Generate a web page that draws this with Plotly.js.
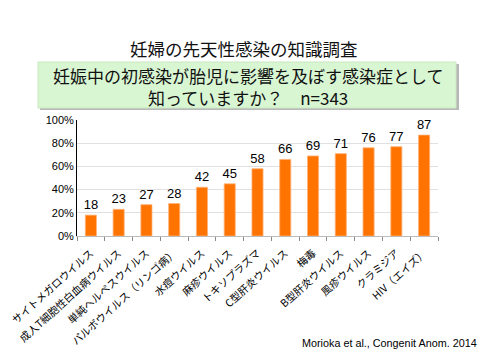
<!DOCTYPE html>
<html><head><meta charset="utf-8">
<script src="https://cdn.plot.ly/plotly-3.0.1.min.js"></script>
<style>html,body{margin:0;padding:0;background:#fff}</style>
</head><body><div id="c" style="width:482px;height:359px"></div>
<script>
const categories = ["サイトメガロウイルス","成人T細胞性白血病ウイルス","単純ヘルペスウイルス","パルボウイルス（リンゴ病）","水痘ウイルス","麻疹ウイルス","トキソプラズマ","C型肝炎ウイルス","梅毒","B型肝炎ウイルス","風疹ウイルス","クラミジア","HIV（エイズ）"];
const values = [18,23,27,28,42,45,58,66,69,71,76,77,87];
const yTickVals = [0,20,40,60,80,100];
const yTickText = ["0%","20%","40%","60%","80%","100%"];

const L=77,R=438,T=120,B=236,W=482,H=359;
const px=x=>(x-L)/(R-L), py=y=>(B-y)/(B-T);
const jp = '"Noto Sans CJK JP", sans-serif';

const trace = {
  type:'bar', x:categories, y:values,
  marker:{color:'#ff7400', line:{color:'#ffb27a', width:0.8}},
  text:values.map(String), textposition:'outside', constraintext:'none',
  textfont:{family:'"Liberation Sans", Arial, sans-serif', size:13, color:'#000'},
  cliponaxis:false, hoverinfo:'none'
};
const layout = {
  width:W, height:H, margin:{l:L, r:W-R, t:T, b:H-B},
  paper_bgcolor:'#fff', plot_bgcolor:'#fff',
  bargap:0.6, showlegend:false,
  xaxis:{type:'category', tickangle:-42, tickfont:{family:jp, size:10.5, color:'#000'},
    ticks:'outside', tickson:'boundaries', ticklen:4, tickcolor:'#888', ticklabelstandoff:6,
    showline:true, linecolor:'#bbb', linewidth:1, showgrid:false, automargin:false},
  yaxis:{range:[0,100], tickvals:yTickVals, ticktext:yTickText,
    tickfont:{family:'"Liberation Sans", Arial, sans-serif', size:11, color:'#000'},
    showgrid:true, gridcolor:'#e0e0e0', gridwidth:1, showline:true, linecolor:'#000', linewidth:1,
    ticks:'', zeroline:false, automargin:false},
  shapes:[
    {type:'rect', xref:'paper', yref:'paper', x0:px(40), x1:px(459), y0:py(64), y1:py(110),
     fillcolor:'#b8b8b8', line:{width:0}, layer:'below'},
    {type:'rect', xref:'paper', yref:'paper', x0:px(38), x1:px(456), y0:py(62), y1:py(108),
     fillcolor:'#d9f6d3', line:{color:'#c8e8c0', width:1}, layer:'below'}
  ],
  annotations:[
    {xref:'paper', yref:'paper', x:px(244), y:py(48), text:'妊婦の先天性感染の知識調査', showarrow:false,
     font:{family:jp, size:17.5, color:'#111'}, xanchor:'center', yanchor:'middle'},
    {xref:'paper', yref:'paper', x:px(248), y:py(76), text:'妊娠中の初感染が胎児に影響を及ぼす感染症として', showarrow:false,
     font:{family:jp, size:17, color:'#111'}, xanchor:'center', yanchor:'middle', borderpad:0},
    {xref:'paper', yref:'paper', x:px(248), y:py(97.5), text:'知っていますか？　n=343', showarrow:false,
     font:{family:jp, size:17, color:'#111'}, xanchor:'center', yanchor:'middle', borderpad:0},
    {xref:'paper', yref:'paper', x:px(479), y:py(343), text:'Morioka et al., Congenit Anom. 2014', showarrow:false,
     font:{family:'"Liberation Sans", Arial, sans-serif', size:10.8, color:'#000'}, xanchor:'right', yanchor:'middle'}
  ]
};
Plotly.newPlot('c',[trace],layout,{staticPlot:true});
</script></body></html>
